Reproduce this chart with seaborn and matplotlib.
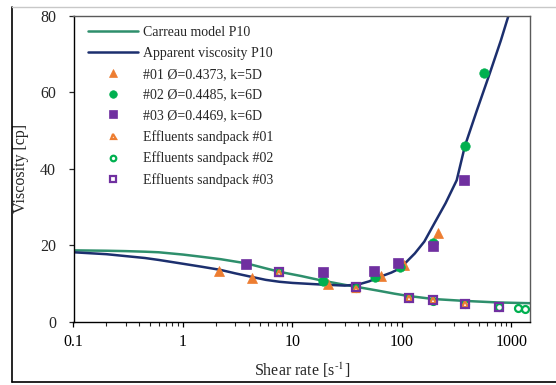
import numpy as np
import pandas as pd
import seaborn as sns
import matplotlib
matplotlib.use("Agg")
import matplotlib.pyplot as plt
from matplotlib.lines import Line2D

# ---------------- data ----------------
carreau_x = [0.1, 0.2, 0.3, 0.45, 0.6, 1.0, 1.5, 2.2, 3.8, 5.7, 7.6, 12, 18, 30, 38, 60, 85, 114, 193, 376, 752, 1500]
carreau_y = [18.7, 18.6, 18.5, 18.35, 18.2, 17.6, 17.0, 16.4, 15.3, 14.0, 13.1, 12.0, 10.9, 9.7, 9.2, 8.2, 7.4, 6.8, 6.0, 5.5, 5.1, 4.9]

apparent_x = [0.1, 0.2, 0.3, 0.45, 0.6, 1.0, 1.5, 2.2, 3.0, 4.2, 5.7, 7.6, 10, 17.7, 30, 40, 50, 63, 80, 96, 131, 160, 198, 250, 316, 376, 480, 635, 800, 1000]
apparent_y = [18.2, 17.7, 17.2, 16.7, 16.2, 15.2, 14.4, 13.6, 12.7, 11.8, 11.0, 10.5, 10.2, 9.8, 9.5, 9.8, 10.6, 11.8, 12.9, 14.0, 17.9, 21.0, 25.8, 31.0, 37.0, 46.0, 55.0, 65.0, 73.5, 82.5]

s01_x = [2.15, 4.24, 21.3, 64, 105, 212]
s01_y = [13.4, 11.6, 9.9, 12.1, 14.9, 23.1]
s02_x = [18.9, 57, 95, 190, 376, 565]
s02_y = [10.7, 11.7, 14.3, 20.7, 45.9, 65.0]
s03_x = [3.76, 18.9, 55.5, 92.5, 190, 371]
s03_y = [15.1, 13.0, 13.4, 15.5, 19.8, 37.0]

e01_x = [7.6, 38, 116, 193, 376]
e01_y = [12.9, 8.6, 6.3, 5.7, 4.6]
e02_x = [7.6, 38, 116, 193, 376, 775, 1153, 1327]
e02_y = [13.0, 8.9, 6.2, 5.5, 4.6, 4.0, 3.6, 3.4]
e03_x = [7.6, 38, 116, 193, 376, 775]
e03_y = [13.1, 9.05, 6.3, 5.7, 4.6, 4.0]

labels = ["Carreau model P10", "Apparent viscosity P10",
          "#01 Ø=0.4373, k=5D", "#02 Ø=0.4485, k=6D", "#03 Ø=0.4469, k=6D",
          "Effluents sandpack #01", "Effluents sandpack #02", "Effluents sandpack #03"]

xticks = [0.1, 1, 10, 100, 1000]
xticklabels = ["0.1", "1", "10", "100", "1000"]
yticks = [0, 20, 40, 60, 80]

# ---------------- style ----------------
sns.set_theme(style="white")
plt.rcParams["font.family"] = ["Liberation Serif", "DejaVu Serif"]
plt.rcParams["mathtext.fontset"] = "stix"

c_carreau = "#2e8f6c"
c_app = "#1c2f6e"
c_or = "#ed7d31"
c_gr = "#00b050"
c_pu = "#7030a0"

fig = plt.figure(figsize=(5.56, 3.85), dpi=100)
ax = fig.add_axes([73.5/556, 1-322/385, (530-73.5)/556, (322-15.5)/385])

sns.lineplot(x=carreau_x, y=carreau_y, ax=ax, color=c_carreau, lw=1.8,
             estimator=None, sort=False, label=labels[0])
sns.lineplot(x=apparent_x, y=apparent_y, ax=ax, color=c_app, lw=1.8,
             estimator=None, sort=False, label=labels[1])

def pts(x, y, marker, color, label, ms, hollow=False):
    kw = dict(linestyle="none", marker=marker, markersize=ms, estimator=None,
              sort=False, label=label, color=color)
    if hollow:
        kw.update(markerfacecolor="none", markeredgecolor=color, markeredgewidth=1.6)
    else:
        kw.update(markerfacecolor=color, markeredgecolor=color, markeredgewidth=0.5)
    sns.lineplot(x=x, y=y, ax=ax, **kw)

pts(s01_x, s01_y, "^", c_or, labels[2], 7.5)
pts(s02_x, s02_y, "o", c_gr, labels[3], 6.8)
pts(s03_x, s03_y, "s", c_pu, labels[4], 6.5)
pts(e02_x, e02_y, "o", c_gr, labels[6], 5.0, hollow=True)
pts(e01_x, e01_y, "^", c_or, labels[5], 4.5, hollow=True)
pts(e03_x, e03_y, "s", c_pu, labels[7], 5.2, hollow=True)

ax.set_xscale("log")
ax.set_xlim(0.1, 1476)
ax.set_ylim(0, 80)
ax.set_xticks(xticks, labels=xticklabels)
ax.set_yticks(yticks)
ax.xaxis.set_minor_locator(matplotlib.ticker.LogLocator(base=10, subs=np.arange(2, 10)))
ax.xaxis.set_minor_formatter(matplotlib.ticker.NullFormatter())
ax.tick_params(axis="x", which="major", direction="out", length=3.5, width=0.9,
               pad=5, labelsize=11.5, colors="black", bottom=True)
ax.tick_params(axis="x", which="minor", direction="out", length=3, width=0.8, bottom=True)
ax.tick_params(axis="y", which="major", direction="out", length=3.5, width=0.9,
               pad=9, labelsize=11.5, left=True)
for s in ["left", "bottom"]:
    ax.spines[s].set_color("black")
    ax.spines[s].set_linewidth(1.0)
for s in ["top", "right"]:
    ax.spines[s].set_color("#5a5a5a")
    ax.spines[s].set_linewidth(1.0)

ax.set_xlabel(r"Shear rate [s$^{\text{-1}}$]", fontsize=11.5, labelpad=8)
ax.set_ylabel("Viscosity [cp]", fontsize=11.5, labelpad=8)

handles, labs = ax.get_legend_handles_labels()
order = [labs.index(l) for l in labels]
leg = ax.legend([handles[i] for i in order], [labs[i] for i in order],
                loc="upper left", bbox_to_anchor=(0.032, 0.965), borderaxespad=0,
                borderpad=0, frameon=False, fontsize=10, handlelength=3.6,
                handletextpad=0.35, labelspacing=0.56, markerscale=0.8, numpoints=1)

# figure border
fig.add_artist(Line2D([12/556, 12/556], [3/385, 1-7/385], transform=fig.transFigure,
                      color="black", lw=1.2))
fig.add_artist(Line2D([12/556, 1], [3/385, 3/385], transform=fig.transFigure,
                      color="black", lw=1.2))
fig.add_artist(Line2D([12/556, 1], [1-7/385, 1-7/385], transform=fig.transFigure,
                      color="#c8c8c8", lw=1.0))

fig.savefig("out.png", dpi=100)
